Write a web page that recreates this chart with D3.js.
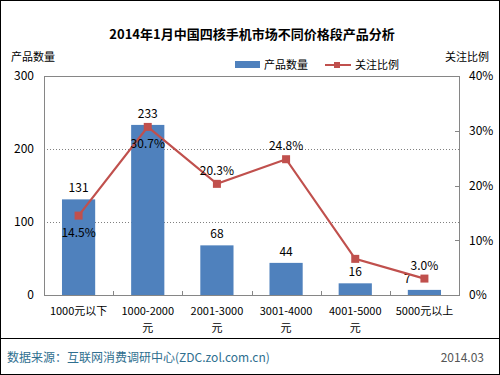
<!DOCTYPE html>
<html>
<head>
<meta charset="utf-8">
<script src="https://cdn.jsdelivr.net/npm/d3@7"></script>
<style>
  body { margin: 0; background: #fff; }
  svg { display: block; }
</style>
</head>
<body>
<svg id="chart" width="500" height="375"></svg>
<script>
// data
const categories = ['1000元以下', '1000-2000元', '2001-3000元', '3001-4000元', '4001-5000元', '5000元以上']
const xLabelLines = [['1000元以下'], ['1000-2000', '元'], ['2001-3000', '元'], ['3001-4000', '元'], ['4001-5000', '元'], ['5000元以上']]
const productCounts = [131, 233, 68, 44, 16, 7]
const attention = [14.5, 30.7, 20.3, 24.8, 6.6, 3.0]
const showPctLabel = [true, true, true, true, false, true]
const pctLabelAbove = [false, false, true, true, true, true]
const countLabelShift = [0, 0, 0, 0, 0, -17]
const leftTicks = [0, 100, 200, 300]
const rightTicks = [0, 10, 20, 30, 40]

const width = 500
const height = 375
const font = '"Noto Sans CJK SC", "Noto Sans", sans-serif'
const barColor = '#4f81bd'
const lineColor = '#c0504d'

const margin = { top: 76, right: 41, bottom: 80, left: 44 }
const plotW = width - margin.left - margin.right
const plotH = height - margin.top - margin.bottom

const svg = d3.select('#chart')

// background + frame
svg.append('rect')
  .attr('x', 0.5).attr('y', 0.5)
  .attr('width', width - 1).attr('height', height - 1)
  .attr('fill', '#fff').attr('stroke', '#000')

// title
svg.append('text')
  .attr('x', 252).attr('y', 39)
  .attr('text-anchor', 'middle')
  .attr('font-family', font).attr('font-size', 13).attr('font-weight', 'bold')
  .attr('fill', '#000')
  .text('2014年1月中国四核手机市场不同价格段产品分析')

// scales
const x = d3.scaleBand().domain(categories).range([0, plotW]).paddingInner(0.52).paddingOuter(0.26)
const xBand = d3.scaleBand().domain(categories).range([0, plotW])
const yLeft = d3.scaleLinear().domain([0, 300]).range([plotH, 0])
const yRight = d3.scaleLinear().domain([0, 40]).range([plotH, 0])

const g = svg.append('g').attr('transform', `translate(${margin.left},${margin.top})`)

// dotted gridlines
g.append('g').selectAll('line')
  .data(leftTicks.filter((d) => d > 0 && d < 300))
  .join('line')
  .attr('x1', 0).attr('x2', plotW)
  .attr('y1', (d) => Math.round(yLeft(d)) + 0.5).attr('y2', (d) => Math.round(yLeft(d)) + 0.5)
  .attr('stroke', '#808080').attr('stroke-dasharray', '1,2')

// bars
g.append('g').selectAll('rect')
  .data(productCounts)
  .join('rect')
  .attr('x', (d, i) => x(categories[i]))
  .attr('y', (d) => yLeft(d))
  .attr('width', x.bandwidth())
  .attr('height', (d) => plotH - yLeft(d))
  .attr('fill', barColor)

// plot frame
g.append('rect')
  .attr('x', 0.5).attr('y', 0.5)
  .attr('width', plotW).attr('height', plotH)
  .attr('fill', 'none').attr('stroke', '#868686')

// left axis
const leftAxis = g.append('g')
  .call(d3.axisLeft(yLeft).tickValues(leftTicks).tickSize(0).tickPadding(10))
leftAxis.select('.domain').remove()
leftAxis.selectAll('text').attr('font-family', font).attr('font-size', 12).attr('fill', '#000')

// right axis
const rightAxis = g.append('g')
  .attr('transform', `translate(${plotW},0)`)
  .call(d3.axisRight(yRight).tickValues(rightTicks).tickSize(0).tickPadding(10).tickFormat((d) => d + '%'))
rightAxis.select('.domain').remove()
rightAxis.selectAll('text').attr('font-family', font).attr('font-size', 12).attr('fill', '#000')
g.append('g').selectAll('line')
  .data(rightTicks.slice(1, -1))
  .join('line')
  .attr('x1', plotW - 4).attr('x2', plotW)
  .attr('y1', (d) => Math.round(yRight(d)) + 0.5).attr('y2', (d) => Math.round(yRight(d)) + 0.5)
  .attr('stroke', '#868686')

// x tick marks between categories
g.append('g').selectAll('line')
  .data(categories.slice(1))
  .join('line')
  .attr('x1', (d) => Math.round(xBand(d)) + 0.5).attr('x2', (d) => Math.round(xBand(d)) + 0.5)
  .attr('y1', plotH - 4).attr('y2', plotH)
  .attr('stroke', '#868686')

// x labels
const xLab = g.append('g').selectAll('text')
  .data(categories)
  .join('text')
  .attr('text-anchor', 'middle')
  .attr('font-family', font).attr('font-size', 11).attr('fill', '#000')
  .attr('transform', (d) => `translate(${xBand(d) + xBand.bandwidth() / 2},${plotH + 20})`)
xLab.selectAll('tspan')
  .data((d, i) => xLabelLines[i])
  .join('tspan')
  .attr('x', 0)
  .attr('dy', (d, i) => (i === 0 ? 0 : 17))
  .text((d) => d)

// bar value labels
g.append('g').selectAll('text')
  .data(productCounts)
  .join('text')
  .attr('x', (d, i) => xBand(categories[i]) + xBand.bandwidth() / 2 + countLabelShift[i])
  .attr('y', (d) => yLeft(d) - 7)
  .attr('text-anchor', 'middle')
  .attr('font-family', font).attr('font-size', 12).attr('fill', '#000')
  .text((d) => d)

// line series
const cx = (i) => xBand(categories[i]) + xBand.bandwidth() / 2
const line = d3.line().x((d, i) => cx(i)).y((d) => yRight(d))
g.append('path')
  .datum(attention)
  .attr('d', line)
  .attr('fill', 'none').attr('stroke', lineColor).attr('stroke-width', 2.2)

g.append('g').selectAll('rect')
  .data(attention)
  .join('rect')
  .attr('x', (d, i) => cx(i) - 4).attr('y', (d) => yRight(d) - 4)
  .attr('width', 8).attr('height', 8)
  .attr('fill', lineColor)

g.append('g').selectAll('text')
  .data(attention)
  .join('text')
  .attr('display', (d, i) => (showPctLabel[i] ? null : 'none'))
  .attr('x', (d, i) => cx(i))
  .attr('y', (d, i) => (pctLabelAbove[i] ? yRight(d) - 9 : yRight(d) + 21))
  .attr('text-anchor', 'middle')
  .attr('font-family', font).attr('font-size', 12).attr('fill', '#000')
  .text((d) => d.toFixed(1) + '%')

// axis titles
svg.append('text')
  .attr('x', 11).attr('y', 61)
  .attr('font-family', font).attr('font-size', 11).attr('fill', '#000')
  .text('产品数量')
svg.append('text')
  .attr('x', 489).attr('y', 61)
  .attr('text-anchor', 'end')
  .attr('font-family', font).attr('font-size', 11).attr('fill', '#000')
  .text('关注比例')

// legend
const legend = svg.append('g').attr('transform', 'translate(235,65)')
legend.append('rect').attr('x', 0).attr('y', -4).attr('width', 25).attr('height', 7).attr('fill', barColor)
legend.append('text').attr('x', 29).attr('y', 4)
  .attr('font-family', font).attr('font-size', 11).attr('fill', '#000').text('产品数量')
legend.append('line').attr('x1', 90).attr('x2', 116).attr('y1', 0).attr('y2', 0)
  .attr('stroke', lineColor).attr('stroke-width', 2)
legend.append('rect').attr('x', 99).attr('y', -3).attr('width', 6).attr('height', 6).attr('fill', lineColor)
legend.append('text').attr('x', 120).attr('y', 4)
  .attr('font-family', font).attr('font-size', 11).attr('fill', '#000').text('关注比例')

// footer
svg.append('line')
  .attr('x1', 0).attr('x2', width)
  .attr('y1', 338.5).attr('y2', 338.5)
  .attr('stroke', '#000')
svg.append('text')
  .attr('x', 7).attr('y', 362)
  .attr('font-family', font).attr('font-size', 12).attr('fill', '#2f6f8f')
  .text('数据来源：互联网消费调研中心(ZDC.zol.com.cn)')
svg.append('text')
  .attr('x', 484).attr('y', 362)
  .attr('text-anchor', 'end')
  .attr('font-family', font).attr('font-size', 12).attr('fill', '#555')
  .text('2014.03')
</script>
</body>
</html>
